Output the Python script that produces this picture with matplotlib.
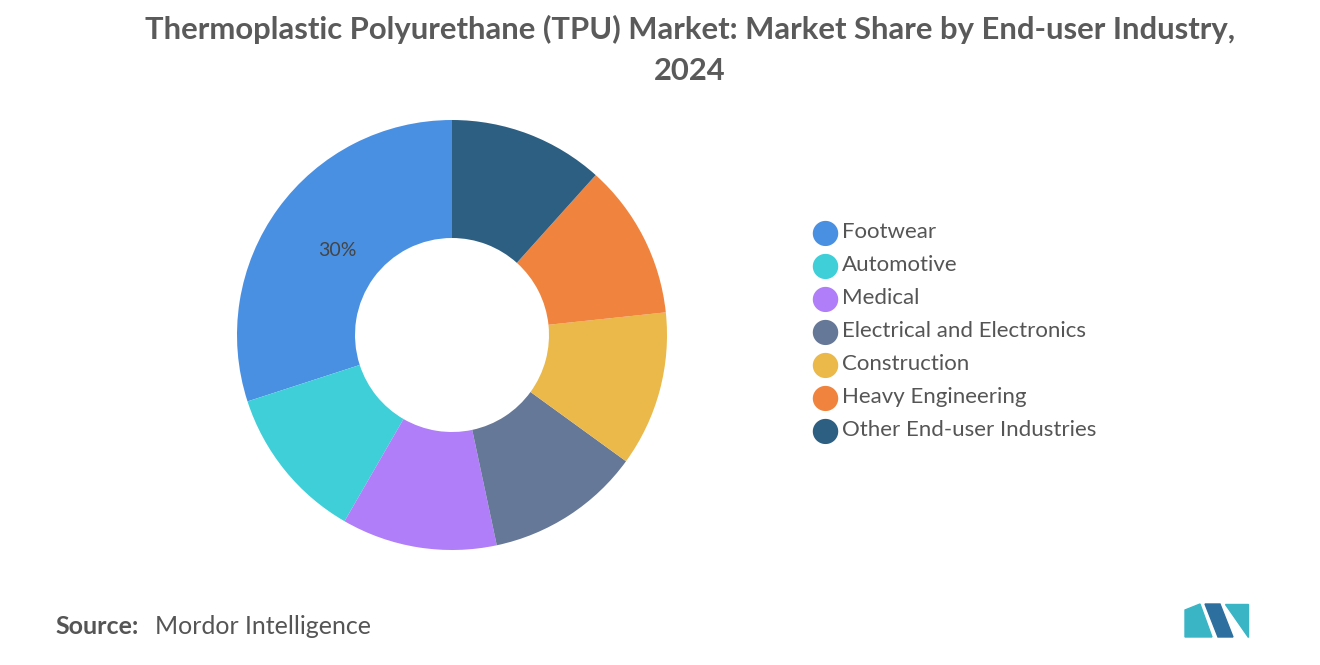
import matplotlib
matplotlib.use("Agg")
import matplotlib.pyplot as plt
from matplotlib.patches import Polygon

categories = ["Footwear", "Automotive", "Medical", "Electrical and Electronics",
              "Construction", "Heavy Engineering", "Other End-user Industries"]
shares = [30, 11.67, 11.67, 11.67, 11.67, 11.67, 11.65]
colors = ["#4A90E2", "#3ECFD8", "#B07EF8", "#667897", "#EBB84A", "#F0843F", "#2D5F83"]

fig = plt.figure(figsize=(13.2, 6.65), dpi=100)
ax = fig.add_axes([452/1320 - 0.33, 1 - 335/665 - 0.33*1320/665, 0.66, 0.66*1320/665])
r = 215 / (0.33 * 1320)
wedges, _ = ax.pie(shares, colors=colors, startangle=90, counterclock=True, radius=r,
                   wedgeprops=dict(width=r * (1 - 97/215), edgecolor="none"))
ax.set_xlim(-1, 1); ax.set_ylim(-1, 1); ax.set_aspect("equal"); ax.axis("off")
ax.text(-0.264, 0.195, "30%", fontsize=14, color="#444444", ha="center", va="center",
        fontfamily="Lato")

fig.text(690/1320, 0.955, "Thermoplastic Polyurethane (TPU) Market: Market Share by End-user Industry,",
         ha="center", va="center", fontsize=22.3, fontweight="bold", color="#5a5a5a", fontfamily="Lato")
fig.text(690/1320, 0.893, "2024", ha="center", va="center", fontsize=22.3, fontweight="bold",
         color="#5a5a5a", fontfamily="Lato")

for i, (c, col) in enumerate(zip(categories, colors)):
    y = 1 - (232 + i * 33) / 665
    fig.text(825/1320, y, "\u25CF", color=col, fontsize=24, ha="center", va="center")
    fig.text(842/1320, y, c, color="#555555", fontsize=16, ha="left", va="center", fontfamily="Lato")

fig.text(55/1320, 1 - 627/665, "Source:", fontsize=18, fontweight="bold", color="#555555",
         va="center", fontfamily="Lato")
fig.text(155/1320, 1 - 627/665, "Mordor Intelligence", fontsize=18, color="#555555",
         va="center", fontfamily="Lato")

def px(x, y):
    return (x/1320, 1 - y/665)
for pts, col in [([(1185, 637), (1185, 610), (1200, 604), (1212, 637)], "#3ab5c6"),
                 ([(1205, 604), (1220, 604), (1233, 637), (1218, 637)], "#2d6f9e"),
                 ([(1225, 604), (1248, 604), (1248, 637)], "#3ab5c6")]:
    fig.add_artist(Polygon([px(*p) for p in pts], closed=True, color=col, transform=fig.transFigure))

fig.savefig("out.png", dpi=100, facecolor="white")
